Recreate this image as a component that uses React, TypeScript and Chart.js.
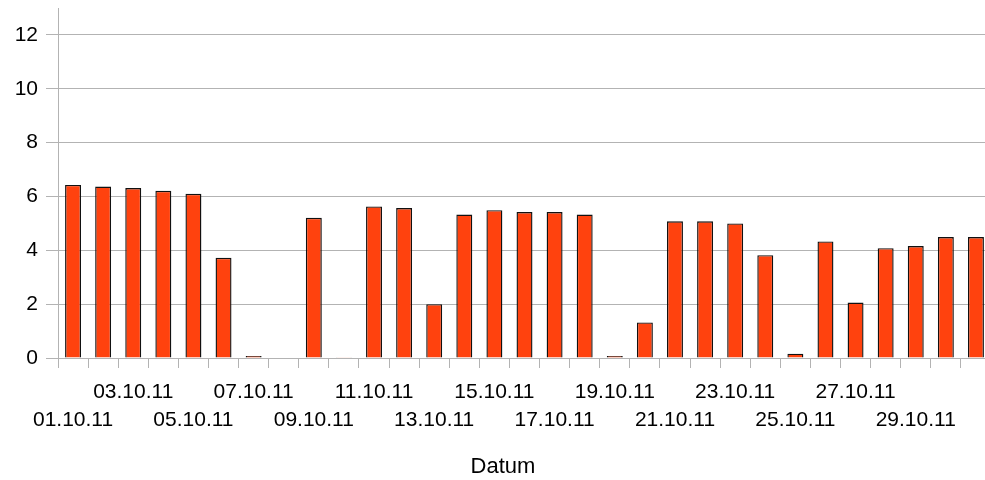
import React, { useEffect, useRef } from 'react';
import { Chart, registerables } from 'chart.js';

Chart.register(...registerables);

const categories = [
  '01.10.11', '02.10.11', '03.10.11', '04.10.11', '05.10.11', '06.10.11', '07.10.11', '08.10.11',
  '09.10.11', '10.10.11', '11.10.11', '12.10.11', '13.10.11', '14.10.11', '15.10.11', '16.10.11',
  '17.10.11', '18.10.11', '19.10.11', '20.10.11', '21.10.11', '22.10.11', '23.10.11', '24.10.11',
  '25.10.11', '26.10.11', '27.10.11', '28.10.11', '29.10.11', '30.10.11', '31.10.11',
];

const values: (number | null)[] = [
  6.43, 6.37, 6.31, 6.21, 6.1, 3.72, 0.07, null, 5.21, 0.03, 5.63, 5.57, 2.0, 5.33, 5.49, 5.42,
  5.42, 5.33, 0.07, 1.32, 5.08, 5.08, 5.0, 3.82, 0.16, 4.33, 2.06, 4.08, 4.16, 4.49, 4.49,
];

const yTickLabels = [0, 2, 4, 6, 8, 10, 12];
const upperRowLabels = ['03.10.11', '07.10.11', '11.10.11', '15.10.11', '19.10.11', '23.10.11', '27.10.11'];
const lowerRowLabels = ['01.10.11', '05.10.11', '09.10.11', '13.10.11', '17.10.11', '21.10.11', '25.10.11', '29.10.11'];
const xTitle = 'Datum';

const FONT = '"Liberation Sans", Arial, sans-serif';
const GRID = '#b3b3b3';

const axisTitlePlugin = {
  id: 'axisTitleCentered',
  afterDraw(chart: any) {
    const ctx = chart.ctx;
    ctx.save();
    ctx.font = `22px ${FONT}`;
    ctx.fillStyle = '#000000';
    ctx.textAlign = 'center';
    ctx.textBaseline = 'middle';
    ctx.fillText(xTitle, chart.width / 2, chart.chartArea.bottom + 109);
    ctx.restore();
  },
};

export default function App() {
  const ref = useRef<HTMLCanvasElement | null>(null);

  useEffect(() => {
    if (!ref.current) return;
    const chart = new Chart(ref.current, {
      type: 'bar',
      data: {
        labels: categories,
        datasets: [
          {
            data: values,
            backgroundColor: '#ff420e',
            borderColor: '#111111',
            borderWidth: 1.4,
            inflateAmount: 0,
            barPercentage: 0.53,
            categoryPercentage: 1,
          },
        ],
      },
      options: {
        responsive: false,
        animation: false,
        layout: { padding: { left: 0, top: 8, right: 15, bottom: 0 } },
        plugins: {
          legend: { display: false },
          tooltip: { enabled: false },
          title: { display: false },
        },
        scales: {
          x: {
            offset: true,
            grid: {
              display: true,
              drawOnChartArea: false,
              drawTicks: true,
              tickLength: 10,
              offset: true,
              color: GRID,
            },
            border: { display: false },
            ticks: {
              autoSkip: false,
              maxRotation: 0,
              minRotation: 0,
              padding: 10,
              color: '#000000',
              font: { family: FONT, size: 21, lineHeight: 1.34 },
              callback: (_v: any, index: number) => {
                const c = categories[index];
                if (upperRowLabels.includes(c)) return [c];
                if (lowerRowLabels.includes(c)) return ['', c];
                return '';
              },
            },
            afterFit: (scale: any) => {
              scale.height = 122;
              scale.paddingLeft = 0;
              scale.paddingRight = 0;
            },
          },
          y: {
            min: 0,
            max: 13,
            grid: { color: GRID, tickLength: 12, drawTicks: true },
            border: { display: true, color: GRID },
            ticks: {
              stepSize: 1,
              padding: 8,
              color: '#000000',
              font: { family: FONT, size: 21 },
              callback: (v: any) => (yTickLabels.includes(Number(v)) ? String(v) : ''),
            },
            afterFit: (scale: any) => {
              scale.width = 58;
              scale.paddingTop = 0;
              scale.paddingBottom = 0;
            },
          },
        },
      },
      plugins: [axisTitlePlugin],
    });
    return () => chart.destroy();
  }, []);

  return (
    <div style={{ position: 'absolute', left: 0, top: 0, width: 985, height: 480, overflow: 'hidden', background: '#ffffff' }}>
      <canvas ref={ref} width={1006} height={480} style={{ width: 1006, height: 480, display: 'block' }} />
    </div>
  );
}
